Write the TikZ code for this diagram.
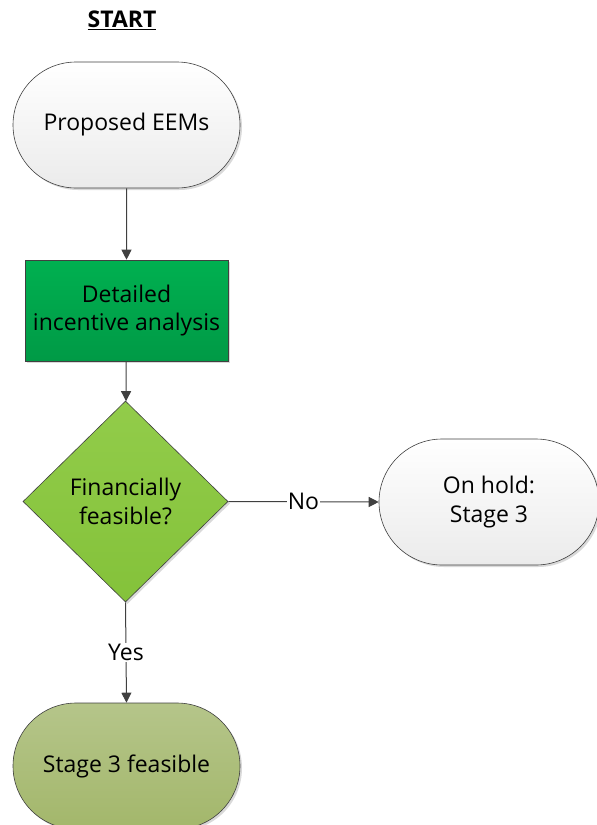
\documentclass[tikz,border=0pt]{standalone}
\usepackage{fontspec}
\setmainfont{Open Sans}
\usetikzlibrary{shapes.misc,shapes.geometric,arrows.meta,shadows}

\definecolor{linegray}{HTML}{404040}
\definecolor{termtop}{HTML}{FFFFFF}
\definecolor{termbot}{HTML}{EBEBEB}
\definecolor{proctop}{HTML}{00B050}
\definecolor{procbot}{HTML}{009A46}
\definecolor{dectop}{HTML}{92CC4A}
\definecolor{decbot}{HTML}{84C23A}
\definecolor{oktop}{HTML}{B5C58A}
\definecolor{okbot}{HTML}{A3B76B}

\tikzset{
  boxtext/.style={font=\fontsize{23}{28.5}\selectfont, text=black, align=center},
  softshadow/.style={drop shadow={shadow xshift=2pt, shadow yshift=-2pt, opacity=0.25, fill=black!60}},
  terminal/.style={rounded rectangle, draw=linegray, line width=0.6pt, boxtext,
    top color=termtop, bottom color=termbot, softshadow,
    minimum width=227pt, minimum height=126pt, inner sep=0pt},
  process/.style={rectangle, draw=linegray, line width=0.6pt, boxtext,
    top color=proctop, bottom color=procbot, softshadow,
    minimum width=203pt, minimum height=101pt, inner sep=0pt},
  decision/.style={diamond, draw=linegray, line width=0.6pt, boxtext,
    top color=dectop, bottom color=decbot, softshadow,
    minimum width=205pt, minimum height=201pt, inner sep=0pt},
  flow/.style={draw=linegray, line width=1pt, -{Triangle[length=10pt,width=10pt]}},
  edgelabel/.style={fill=white, inner sep=1pt, font=\fontsize{23}{28}\selectfont, text=black}
}

\begin{document}
\begin{tikzpicture}[x=1pt, y=-1pt]
  \useasboundingbox (0,0) rectangle (597,825);

  % heading
  \node (title) at (122,20) {\fontsize{23}{28}\selectfont\bfseries\underline{START}};

  % flowchart nodes
  \node[terminal] (proposed) at (126.5,125) {Proposed EEMs};
  \node[process] (incentive) at (126.5,310.5) {Detailed\\incentive analysis};
  \node[decision] (feasible) at (125.5,501.5) {Financially\\feasible?};
  \node[terminal, minimum width=220pt] (hold) at (489,502) {On hold:\\Stage 3};
  \node[terminal, top color=oktop, bottom color=okbot] (stage3) at (126.5,766) {Stage 3 feasible};

  % connectors
  \draw[flow] (proposed) -- (incentive);
  \draw[flow] (incentive) -- (feasible);
  \draw[flow] (feasible.east) -- node[edgelabel] {No} (hold.west);
  \draw[flow] (feasible.south) -- node[edgelabel] {Yes} (stage3.north);
\end{tikzpicture}
\end{document}
